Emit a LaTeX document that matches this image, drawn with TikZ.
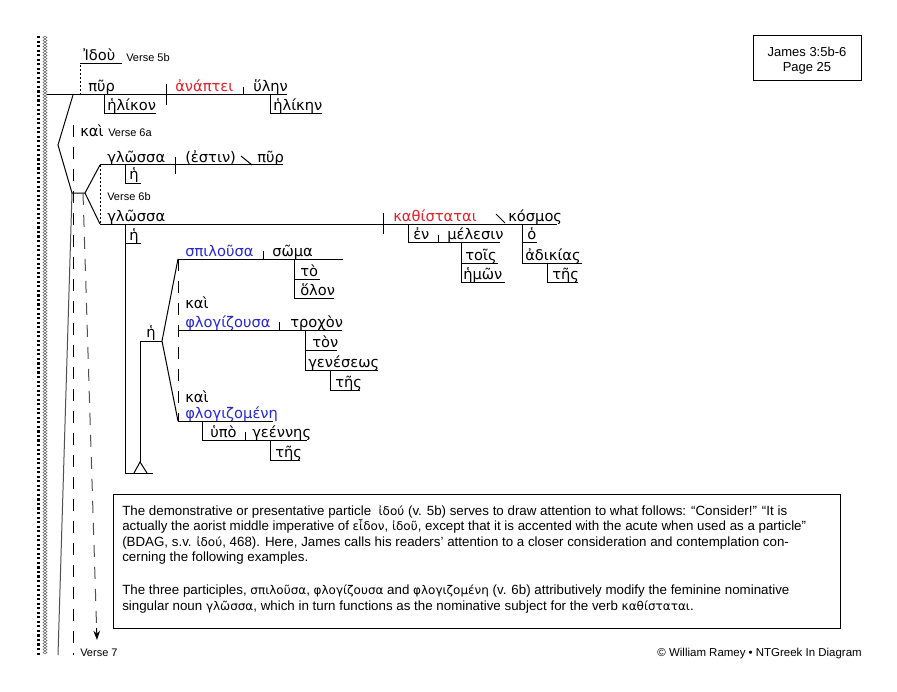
\documentclass[tikz,border=0pt]{standalone}
\usepackage{fontspec}
\setmainfont{Liberation Sans}
\newfontfamily\gkf{DejaVu Sans}
\usetikzlibrary{arrows.meta}
\definecolor{vred}{RGB}{232,30,40}
\definecolor{pblue}{RGB}{40,40,210}
\definecolor{lgray}{RGB}{80,80,80}
\newcommand\gkfont{\gkf\fontsize{11}{13}\selectfont}
\newcommand\vsfont{\fontsize{8.25}{10}\selectfont}
\newcommand\bxfont{\fontsize{10}{12}\selectfont}
\newcommand\bg[1]{{\gkf\fontsize{9}{11}\selectfont #1}}
\begin{document}
\begin{tikzpicture}[x=0.75pt,y=-0.75pt,
  ln/.style={line width=0.75pt},
  dotl/.style={line width=0.6pt, dash pattern=on 1.5pt off 1.5pt},
  dashl/.style={line width=0.75pt, dash pattern=on 9pt off 7.5pt},
  gk/.style={font=\gkfont, inner sep=0pt, anchor=base west},
  vs/.style={font=\vsfont, inner sep=0pt, anchor=base west},
  bx/.style={font=\bxfont, inner sep=0pt, anchor=base west}]
\useasboundingbox (0,0) rectangle (897,692);
\fill[white] (0,0) rectangle (897,692);
% left border
\draw[line width=1.6pt, dash pattern=on 1.6pt off 1.8pt] (38.5,36) -- (38.5,655);
\foreach \yy in {36,39,...,652}
  \draw[line width=0.35pt, black!70] (45,\yy) -- (47,{\yy+1.5}) -- (45,{\yy+3}) -- (43,{\yy+1.5}) -- cycle;
% header box
\draw[ln] (753,36) rectangle (861,81);
\node[font=\fontsize{9.75}{11}\selectfont, inner sep=0pt, anchor=base] (hd1) at (807,57) {James 3:5b-6};
\node[font=\fontsize{9.75}{11}\selectfont, inner sep=0pt, anchor=base] (hd2) at (807,72) {Page 25};
% ---------- verse 5b
\draw[ln] (47,95) -- (287,95);
\draw[dotl] (80,95) -- (80,64);
\draw[ln] (80,64) -- (122,64);
\node[gk] (idou) at (83,61) {Ἰδοὺ};
\node[vs] (v5b) at (126,62) {Verse 5b};
\node[gk] (pyr1) at (88,92) {πῦρ};
\draw[ln] (104,95) -- (104,114) -- (156,114);
\node[gk] (hlikon) at (107,111) {ἡλίκον};
\draw[ln] (166,84) -- (166,105);
\node[gk, text=vred] (anaptei) at (175,92) {ἀνάπτει};
\draw[ln] (243,87) -- (243,95);
\node[gk] (hylen) at (253,92) {ὕλην};
\draw[ln] (270,95) -- (270,114) -- (322,114);
\node[gk] (hliken) at (273,111) {ἡλίκην};
% ---------- conjunction kai
\draw[ln] (73,95) -- (58,145) -- (72,193) -- (85,193);
\node[gk] (kai1) at (80,137) {καὶ};
\node[vs] (v6a) at (108,137) {Verse 6a};
\draw[dashl] (73,125) -- (73,655);
\draw[ln, lgray] (72,193) -- (58,655);
\coordinate (arrs) at (83,193);
\coordinate (arrm) at (96.6,628);
\coordinate (arre) at (97,640);
\draw[dashl, lgray] (arrs) -- (arrm);
\draw[line width=0.75pt, -{Stealth[length=7pt,width=5pt]}] (arrm) -- (arre);
\node[vs] (v7) at (80,656) {Verse 7};
% ---------- fork of two glwssa clauses
\draw[ln] (100,165) -- (85,193) -- (100,224);
\draw[dotl] (100,165) -- (100,224);
\draw[ln] (100,165) -- (283,165);
\node[gk] (gl1) at (107,162) {γλῶσσα};
\draw[ln] (175,157) -- (175,174);
\node[gk] (estin) at (185,162) {(ἐστιν)};
\draw[ln] (241,156) -- (252,165);
\node[gk] (pyr2) at (257,162) {πῦρ};
\draw[ln] (125,165) -- (125,183) -- (141,183);
\node[gk] (he1) at (129,180) {ἡ};
\node[vs] (v6b) at (107,200) {Verse 6b};
% ---------- second clause
\draw[ln] (100,224) -- (557,224);
\node[gk] (gl2) at (107,221) {γλῶσσα};
\draw[ln] (125,224) -- (125,473) -- (153,473);
\draw[ln] (125,243) -- (141,243);
\node[gk] (he2) at (129,240) {ἡ};
\draw[ln] (383,213) -- (383,234);
\node[gk, text=vred] (kath) at (393,221) {καθίσταται};
\draw[ln] (496,214) -- (505,223);
\node[gk] (kosmos) at (508,221) {κόσμος};
\draw[ln] (408,224) -- (408,242) -- (500,242);
\node[gk] (en) at (413,239) {ἐν};
\draw[ln] (438,235) -- (438,242);
\node[gk] (melesin) at (447,239) {μέλεσιν};
\draw[ln] (461,242) -- (461,282) -- (505,282);
\draw[ln] (461,263) -- (498,263);
\node[gk] (tois) at (465,260) {τοῖς};
\node[gk] (hmwn) at (463,279) {ἡμῶν};
\draw[ln] (522,224) -- (522,263) -- (582,263);
\draw[ln] (522,242) -- (537,242);
\node[gk] (ho) at (527,239) {ὁ};
\node[gk] (adikias) at (525,260) {ἀδικίας};
\draw[ln] (547,263) -- (547,282) -- (578,282);
\node[gk] (tes1) at (552,279) {τῆς};
% ---------- participles
\draw[ln] (134,473) -- (140,462) -- (147,473);
\draw[ln] (140,462) -- (140,341) -- (162,341);
\node[gk] (he3) at (146,337) {ἡ};
\draw[ln] (178,259) -- (162,341) -- (178,421);
\draw[dashl] (178,259) -- (178,421);
% spilousa
\draw[ln] (178,259) -- (343,259);
\node[gk, text=pblue] (spil) at (185,256) {σπιλοῦσα};
\draw[ln] (263,251) -- (263,259);
\node[gk] (swma) at (272,256) {σῶμα};
\draw[ln] (294,259) -- (294,298) -- (334,298);
\draw[ln] (294,279) -- (320,279);
\node[gk] (to) at (300,276) {τὸ};
\node[gk] (holon) at (300,295) {ὅλον};
% phlogizousa
\node[gk] (kai2) at (185,308) {καὶ};
\draw[ln] (178,330) -- (342,330);
\node[gk, text=pblue] (phlog1) at (185,327) {φλογίζουσα};
\draw[ln] (279,322) -- (279,330);
\node[gk] (troxon) at (290,327) {τροχὸν};
\draw[ln] (305,330) -- (305,370) -- (378,370);
\draw[ln] (305,350) -- (337,350);
\node[gk] (ton) at (312,347) {τὸν};
\node[gk] (genesews) at (308,367) {γενέσεως};
\draw[ln] (330,370) -- (330,390) -- (360,390);
\node[gk] (tes2) at (335,387) {τῆς};
% phlogizomene
\node[gk] (kai3) at (185,402) {καὶ};
\draw[ln] (178,421) -- (273,421);
\node[gk, text=pblue] (phlog2) at (185,418) {φλογιζομένη};
\draw[ln] (202,421) -- (202,440) -- (307,440);
\node[gk] (hypo) at (210,437) {ὑπὸ};
\draw[ln] (245,432) -- (245,440);
\node[gk] (geennes) at (252,437) {γεέννης};
\draw[ln] (270,440) -- (270,460) -- (300,460);
\node[gk] (tes3) at (275,457) {τῆς};
% ---------- note box
\draw[ln] (113,494) rectangle (840,628);
\node[bx] (n1) at (122,515) {The demonstrative or presentative particle \ \bg{ἰδού} (v. 5b) serves to draw attention to what follows: “Consider!” “It is};
\node[bx] (n2) at (122,530.5) {actually the aorist middle imperative of \bg{εἶδον}, \bg{ἰδοῦ}, except that it is accented with the acute when used as a particle”};
\node[bx] (n3) at (122,546) {(BDAG, s.v. \bg{ἰδού}, 468). Here, James calls his readers’ attention to a closer consideration and contemplation con-};
\node[bx] (n4) at (122,561.5) {cerning the following examples.};
\node[bx] (n5) at (122,594) {The three participles, \bg{σπιλοῦσα}, \bg{φλογίζουσα} and \bg{φλογιζομένη} (v. 6b) attributively modify the feminine nominative};
\node[bx] (n6) at (122,610) {singular noun \bg{γλῶσσα}, which in turn functions as the nominative subject for the verb \bg{καθίσταται}.};
% footer
\node[font=\fontsize{8.6}{10}\selectfont, inner sep=0pt, anchor=base east] (foot) at (862,656) {© William Ramey • NTGreek In Diagram};
\end{tikzpicture}
\end{document}
